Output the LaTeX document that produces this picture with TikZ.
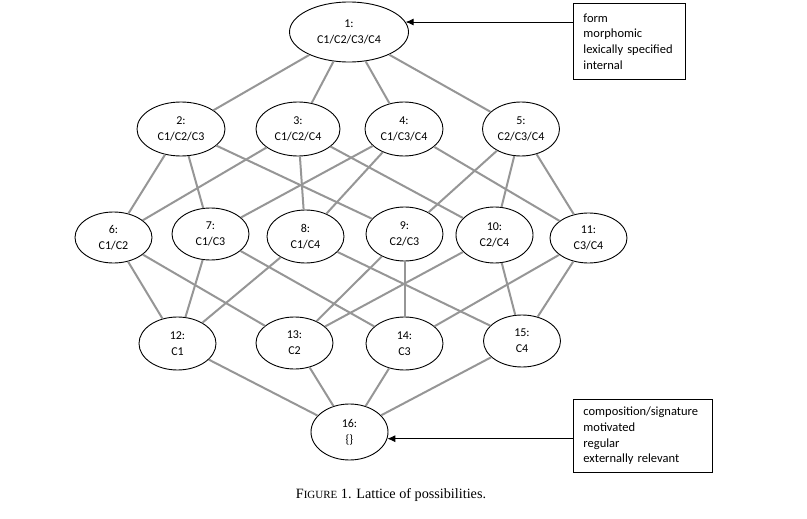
\documentclass[tikz,border=0pt]{standalone}
\usepackage{fontspec}
\setmainfont{Liberation Serif}
\newfontfamily\calib{Carlito}
\usetikzlibrary{shapes.geometric,arrows.meta}
\definecolor{edgegray}{RGB}{150,150,150}
\begin{document}
\begin{tikzpicture}[x=1pt,y=-1pt,
  lat/.style={ellipse,draw=black,line width=0.9pt,inner sep=0pt,minimum width=77pt,minimum height=53pt,align=center,font=\calib\fontsize{12}{16}\selectfont},
  link/.style={draw=edgegray,line width=2pt},
  infobox/.style={draw=black,line width=0.9pt,anchor=north west,align=left,inner xsep=10pt,inner ysep=0pt,font=\calib\fontsize{12.5}{15.7}\selectfont},
  arr/.style={-{Latex[length=8pt,width=7pt]},line width=0.8pt}
]
\useasboundingbox (0,0) rectangle (807,519);
\node[lat,minimum width=119pt,minimum height=60pt] (n1) at (349,32) {1:\\C1/C2/C3/C4};
\node[lat,minimum width=88pt,minimum height=54pt] (n2) at (181,129) {2:\\C1/C2/C3};
\node[lat,minimum width=84pt,minimum height=54pt] (n3) at (298,129) {3:\\C1/C2/C4};
\node[lat,minimum width=78pt,minimum height=54pt] (n4) at (404,129) {4:\\C1/C3/C4};
\node[lat,minimum height=54pt] (n5) at (521,129) {5:\\C2/C3/C4};
\node[lat,minimum height=51pt] (n6) at (113.5,237.5) {6:\\C1/C2};
\node[lat,minimum height=52pt] (n7) at (210.5,234) {7:\\C1/C3};
\node[lat] (n8) at (305.5,236.5) {8:\\C1/C4};
\node[lat,minimum height=54pt] (n9) at (404.5,234) {9:\\C2/C3};
\node[lat,minimum height=56pt] (n10) at (494.5,235) {10:\\C2/C4};
\node[lat,minimum height=50pt] (n11) at (588.5,238) {11:\\C3/C4};
\node[lat] (n12) at (177.5,343.5) {12:\\C1};
\node[lat,minimum height=52pt] (n13) at (294.5,343) {13:\\C2};
\node[lat] (n14) at (404.5,343.5) {14:\\C3};
\node[lat,minimum height=52pt] (n15) at (522,341) {15:\\C4};
\node[lat,minimum height=56pt] (n16) at (349.5,432) {16:\\\{\}};
% edges
\foreach \a/\b in {n1/n2,n1/n3,n1/n4,n1/n5,
  n2/n6,n2/n7,n2/n9,n3/n6,n3/n8,n3/n10,n4/n7,n4/n8,n4/n11,n5/n9,n5/n10,n5/n11,
  n6/n12,n6/n13,n7/n12,n7/n14,n8/n12,n8/n15,n9/n13,n9/n14,n10/n13,n10/n15,n11/n14,n11/n15,
  n12/n16,n13/n16,n14/n16,n15/n16}
  \draw[link] (\a) -- (\b);
% info boxes
\node[infobox,text width=92pt,minimum height=76pt] (box1) at (573,3) {form\\morphomic\\lexically specified\\internal};
\node[infobox,text width=119pt,minimum height=73pt] (box2) at (573,399) {composition/signature\\motivated\\regular\\externally relevant};
\draw[arr] (box1.west |- n1.10) -- (n1.10);
\draw[arr] (box2.west |- n16.-10) -- (n16.-10);
% caption
\node[font=\fontsize{14.2}{16}\selectfont] (cap) at (391,495) {F{\fontsize{11}{13}\selectfont IGURE} 1. Lattice of possibilities.};
\end{tikzpicture}
\end{document}
